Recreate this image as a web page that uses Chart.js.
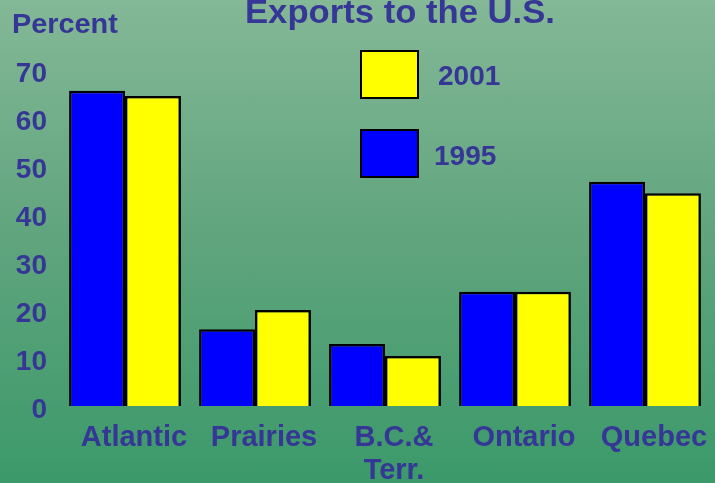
<!DOCTYPE html>
<html>
<head>
<meta charset="utf-8">
<script src="https://cdn.jsdelivr.net/npm/chart.js@4"></script>
<style>
  html, body { margin: 0; padding: 0; }
  body {
    width: 715px; height: 483px; overflow: hidden; position: relative;
    background: linear-gradient(to bottom, #84b897 0%, #5fa47d 50%, #3b996a 100%);
    font-family: "Liberation Sans", Arial, sans-serif; font-weight: bold; color: #363696;
  }
  #wrap { position: absolute; left: 0; top: 0; width: 715px; height: 483px; }
  .txt { position: absolute; white-space: nowrap; line-height: 1; }
  #title { left: 245px; top: -5px; font-size: 33px; transform: scaleX(1.05); transform-origin: left top; }
  #percent { left: 12px; top: 10px; font-size: 28px; transform: scaleX(1.03); transform-origin: left top; }
  .lbox { position: absolute; width: 55px; height: 45px; border: 2px solid #000; }
  .ltxt { position: absolute; font-size: 28px; line-height: 1; }
</style>
</head>
<body>
<div id="wrap"><canvas id="exports" width="715" height="483"></canvas></div>
<div class="txt" id="title">Exports to the U.S.</div>
<div class="txt" id="percent">Percent</div>
<div id="legend"></div>
<script>
const regions = ["Atlantic", "Prairies", ["B.C.&", "Terr."], "Ontario", "Quebec"];
const exports1995 = [65.7, 16.0, 12.9, 23.8, 46.7];
const exports2001 = [64.6, 20.0, 10.4, 23.8, 44.3];
const yTicks = [0, 10, 20, 30, 40, 50, 60, 70];

const textColor = "#363696";

const data = {
  labels: regions,
  datasets: [
    {
      label: "1995",
      data: exports1995,
      backgroundColor: "#0000ff",
      borderColor: "#000000",
      borderWidth: 2.5
    },
    {
      label: "2001",
      data: exports2001,
      backgroundColor: "#ffff00",
      borderColor: "#000000",
      borderWidth: 2.5
    }
  ]
};

const config = {
  type: "bar",
  data,
  options: {
    responsive: false,
    animation: false,
    layout: { padding: { top: 70, right: 5, left: 0, bottom: 0 } },
    datasets: { bar: { barPercentage: 1, categoryPercentage: 0.86 } },
    plugins: {
      legend: { display: false },
      title: { display: false },
      tooltip: { enabled: false }
    },
    scales: {
      x: {
        grid: { display: false, drawTicks: false },
        border: { display: false },
        ticks: {
          color: textColor,
          font: { family: "Liberation Sans", size: 29, weight: "bold", lineHeight: 1.12 },
          padding: 16,
          labelOffset: 9,
          maxRotation: 0,
          autoSkip: false
        },
        afterFit: (axis) => { axis.height = 77; }
      },
      y: {
        min: 0,
        max: 70,
        grid: { display: false, drawTicks: false },
        border: { display: false },
        afterBuildTicks: (axis) => { axis.ticks = yTicks.map(v => ({ value: v })); },
        ticks: {
          color: textColor,
          font: { family: "Liberation Sans", size: 28, weight: "bold" },
          padding: 13,
          labelOffset: 4
        },
        afterFit: (axis) => { axis.width = 60; }
      }
    }
  }
};

const exportsChart = new Chart(document.getElementById("exports"), config);

// legend drawn as html, 2001 on top like the original
const legendPos = [
  { ds: 1, box: [360, 50], text: [438, 62] },
  { ds: 0, box: [360, 129], text: [434, 142] }
];
const legend = document.getElementById("legend");
legendPos.forEach(p => {
  const d = data.datasets[p.ds];
  const b = document.createElement("div");
  b.className = "lbox";
  b.style.left = p.box[0] + "px";
  b.style.top = p.box[1] + "px";
  b.style.background = d.backgroundColor;
  legend.appendChild(b);
  const t = document.createElement("div");
  t.className = "ltxt";
  t.style.left = p.text[0] + "px";
  t.style.top = p.text[1] + "px";
  t.textContent = d.label;
  legend.appendChild(t);
});
</script>
</body>
</html>
